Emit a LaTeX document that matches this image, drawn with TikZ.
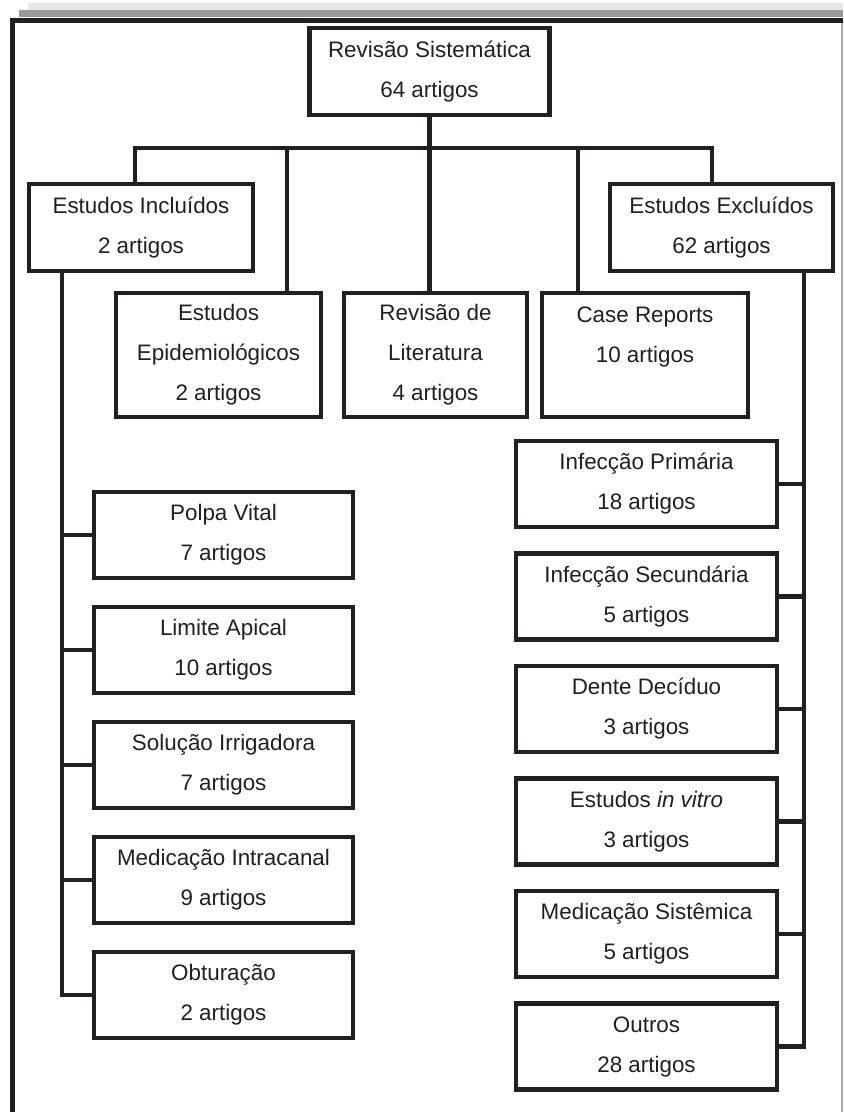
\documentclass[tikz,border=0pt]{standalone}
\usepackage{fontspec}
\setmainfont{Liberation Sans}
\definecolor{fcink}{RGB}{35,31,32}
\definecolor{fcgray}{RGB}{153,153,156}
\definecolor{fclight}{RGB}{230,231,232}
\definecolor{fcedge}{RGB}{170,170,172}

\begin{document}
\begin{tikzpicture}[x=0.75pt, y=-0.75pt,
  box/.style={draw=fcink, line width=3.2pt, fill=white, text=fcink, align=center,
              inner sep=0pt, font=\fontsize{16.8}{30}\selectfont},
  topbox/.style={box, minimum height=65.25pt},
  midbox/.style={box, minimum height=93pt},
  lbox/.style={box, minimum width=194.25pt, minimum height=64.5pt},
  rbox/.style={box, minimum width=195.75pt, minimum height=64.5pt},
  link/.style={draw=fcink, line width=3.2pt}]

\useasboundingbox (0,0) rectangle (843,1112);

% === Page frame ===
\fill[fclight] (28,3) rectangle (843,10);
\fill[fcgray] (19,10) rectangle (843,17);
\draw[fcink, line width=3.75pt] (12,1112) -- (12,20.5) -- (843,20.5);
\draw[fcedge, line width=1pt] (842,23) -- (842,1112);

% === Top levels ===
\node[topbox, minimum width=180pt] (rs) at (429.5,71.5) {Revisão Sistemática\\64 artigos};
\node[topbox, minimum width=168pt] (inc) at (141,227.5) {Estudos Incluídos\\2 artigos};
\node[topbox, minimum width=167.25pt] (exc) at (721.5,227.5) {Estudos Excluídos\\62 artigos};
\node[midbox, minimum width=153.75pt] (epi) at (218.5,355) {Estudos\\Epidemiológicos\\2 artigos};
\node[midbox, minimum width=137.25pt] (lit) at (435.5,355) {Revisão de\\Literatura\\4 artigos};
\node[midbox, minimum width=154.5pt] (cr) at (645,355) {Case Reports\\10 artigos\\~};

% Bus under the top box
\coordinate (sinc) at (135,148);
\coordinate (sepi) at (287,148);
\coordinate (slit) at (429.5,148);
\coordinate (scr) at (578,148);
\coordinate (sexc) at (712,148);
\draw[link] (rs.south) -- (slit);
\draw[link] (sinc |- inc.north) -- (sinc) -- (sexc) -- (sexc |- exc.north);
\foreach \s/\n in {sepi/epi, slit/lit, scr/cr}
  \draw[link] (\s) -- (\s |- \n.north);

% === Included studies (left column) ===
\node[lbox] (pv) at (223.5,535) {Polpa Vital\\7 artigos};
\node[lbox] (la) at (223.5,650) {Limite Apical\\10 artigos};
\node[lbox] (si) at (223.5,765) {Solução Irrigadora\\7 artigos};
\node[lbox] (mi) at (223.5,880) {Medicação Intracanal\\9 artigos};
\node[lbox] (ob) at (223.5,995) {Obturação\\2 artigos};

\coordinate (lv) at (62,0);
\draw[link] (lv |- inc.south) |- (ob.west);
\foreach \n in {pv,la,si,mi}
  \draw[link] (lv |- \n.west) -- (\n.west);

% === Excluded studies (right column) ===
\node[rbox] (ip) at (646.5,484) {Infecção Primária\\18 artigos};
\node[rbox] (is) at (646.5,596.5) {Infecção Secundária\\5 artigos};
\node[rbox] (dd) at (646.5,709) {Dente Decíduo\\3 artigos};
\node[rbox] (iv) at (646.5,821.5) {Estudos \textit{in vitro}\\3 artigos};
\node[rbox] (ms) at (646.5,934) {Medicação Sistêmica\\5 artigos};
\node[rbox] (ou) at (646.5,1046.5) {Outros\\28 artigos};

\coordinate (rv) at (804,0);
\draw[link] (rv |- exc.south) |- (ou.east);
\foreach \n in {ip,is,dd,iv,ms}
  \draw[link] (rv |- \n.east) -- (\n.east);

\end{tikzpicture}
\end{document}
